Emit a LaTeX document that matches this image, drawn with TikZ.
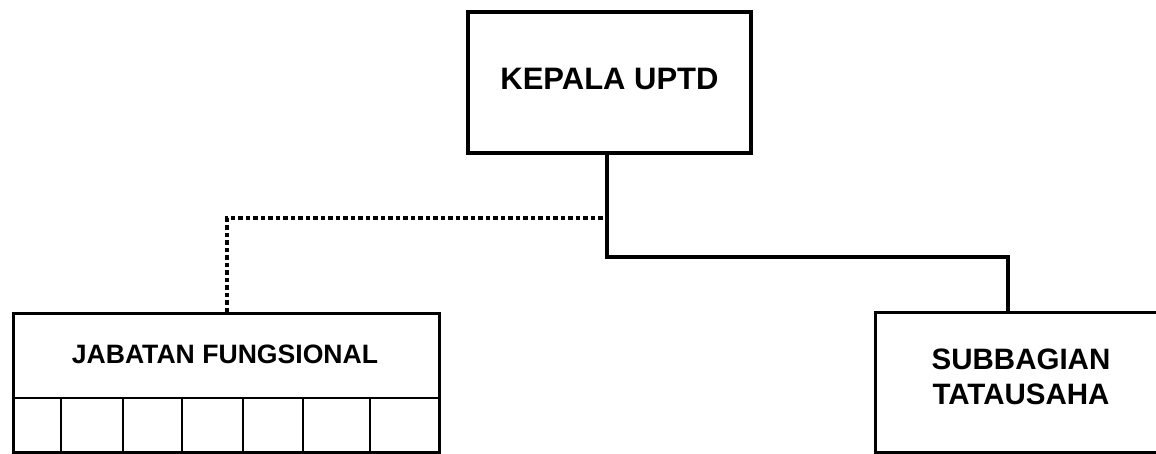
\documentclass[tikz,border=0pt]{standalone}
\usepackage{fontspec}
\setmainfont{Liberation Sans}
\begin{document}
\begin{tikzpicture}[x=1pt,y=-1pt,
  box/.style={draw=black,line width=3.4pt,inner sep=0pt,font=\bfseries,align=center},
  conn/.style={draw=black,line width=3.4pt},
  dotconn/.style={draw=black,line width=3.2pt,dash pattern=on 4.5pt off 3pt},
  thin/.style={draw=black,line width=2.2pt}]
\useasboundingbox (0,0) rectangle (1156,453);
\clip (0,0) rectangle (1156,453);
% boxes
\node[box,minimum width=283pt,minimum height=141pt] (kepala) at (609.5,82.5) {};
\node[font=\bfseries\fontsize{31}{36}\selectfont] (kepalatext) at (kepala.center) [yshift=4pt] {KEPALA UPTD};
\node[box,minimum width=426pt,minimum height=139pt,anchor=north west] (jab) at (12,312) {};
\node[font=\bfseries\fontsize{26.6}{30}\selectfont] (jabtext) at (225,354) {JABATAN FUNGSIONAL};
\node[box,minimum width=300pt,minimum height=140pt,anchor=north west] (sub) at (874,311) {};
\node[font=\bfseries\fontsize{29.5}{35}\selectfont,align=center] (subtext) at (1021,377) {SUBBAGIAN\\TATAUSAHA};
% cells
\draw[thin] (jab.west |- 0,398) -- (jab.east |- 0,398);
\foreach \cx in {61,123,182,243,303,370}{
  \draw[thin] (\cx,398) -- (\cx,451);
}
% connectors
\coordinate (k) at (607,153);
\coordinate (jt) at (227,312);
\coordinate (st) at (1008,311);
\draw[conn] (k) -- (607,257) -| (st);
\draw[dotconn] (jt) -- (227,218) -- (607,218);
\end{tikzpicture}
\end{document}
